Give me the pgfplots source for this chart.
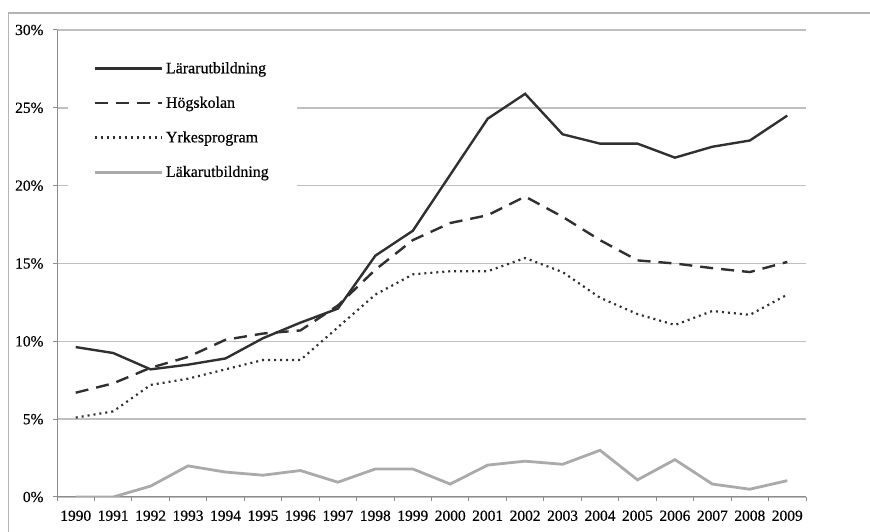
\documentclass[border=0pt]{standalone}
\usepackage{pgfplots}
\pgfplotsset{compat=1.18}
\usepackage{fontspec}
\setmainfont[FakeBold=0.5]{Liberation Serif}
\definecolor{dk}{HTML}{303030}
\definecolor{lg}{HTML}{AAAAAA}
\definecolor{grid}{HTML}{B4B4B4}
\definecolor{ax}{HTML}{8C8C8C}
\begin{document}
\begin{tikzpicture}[x=1bp,y=1bp]
\path[use as bounding box] (0,0) rectangle (870,532);
\draw[grid, line width=1.3bp] (8.5,-5) -- (8.5,519) -- (880,519);
\begin{axis}[
  at={(57bp,35bp)}, anchor=south west,
  scale only axis, width=749bp, height=467bp,
  xmin=1989.5, xmax=2009.5, ymin=0, ymax=30,
  axis lines*=left,
  axis line style={ax, line width=1bp},
  xtick={1989.5,1990.5,...,2009.5},
  xticklabels={},
  extra x ticks={1990,1991,1992,1993,1994,1995,1996,1997,1998,1999,2000,2001,2002,2003,2004,2005,2006,2007,2008,2009},
  extra x tick labels={1990,1991,1992,1993,1994,1995,1996,1997,1998,1999,2000,2001,2002,2003,2004,2005,2006,2007,2008,2009},
  extra x tick style={major tick length=0pt, tick style={draw=none}, grid=none,
     xticklabel style={yshift=-10bp}},
  ytick={0,5,...,30},
  yticklabels={0\%,5\%,10\%,15\%,20\%,25\%,30\%},
  ymajorgrids, xmajorgrids=false,
  grid style={grid, line width=1.4bp},
  tick align=outside,
  x tick style={draw=ax, line width=1bp},
  y tick style={draw=ax, line width=1bp},
  major tick length=4bp,
  tick label style={font=\fontsize{15.5}{19}\selectfont},
  yticklabel style={xshift=-6bp},
  legend style={at={(rel axis cs:0.0147,0.955)}, anchor=north west, fill=white, draw=none,
    font=\fontsize{16}{19}\selectfont, inner xsep=25bp, inner ysep=8bp,
    row sep=16bp, nodes={inner sep=3bp}},
  legend cell align=left,
  legend image code/.code={\draw[#1] (0bp,0bp) -- (67bp,0bp);},
]
\addplot[dk, line width=2.4bp] coordinates {
(1990,9.63)(1991,9.25)(1992,8.2)(1993,8.5)(1994,8.9)(1995,10.2)(1996,11.2)(1997,12.1)(1998,15.5)(1999,17.1)
(2000,20.7)(2001,24.3)(2002,25.9)(2003,23.3)(2004,22.7)(2005,22.7)(2006,21.8)(2007,22.5)(2008,22.9)(2009,24.5)};
\addlegendentry{Lärarutbildning}
\addplot[dk, line width=2.4bp, dash pattern=on 13bp off 8bp] coordinates {
(1990,6.7)(1991,7.3)(1992,8.3)(1993,9.0)(1994,10.1)(1995,10.5)(1996,10.7)(1997,12.3)(1998,14.6)(1999,16.5)
(2000,17.6)(2001,18.1)(2002,19.3)(2003,18.0)(2004,16.5)(2005,15.2)(2006,15.0)(2007,14.7)(2008,14.45)(2009,15.1)};
\addlegendentry{Högskolan}
\addplot[dk, line width=2.2bp, dash pattern=on 2bp off 4bp] coordinates {
(1990,5.1)(1991,5.5)(1992,7.2)(1993,7.6)(1994,8.2)(1995,8.8)(1996,8.8)(1997,10.9)(1998,13.0)(1999,14.3)
(2000,14.5)(2001,14.5)(2002,15.35)(2003,14.45)(2004,12.8)(2005,11.75)(2006,11.05)(2007,11.95)(2008,11.7)(2009,13.0)};
\addlegendentry{Yrkesprogram}
\addplot[lg, line width=2.8bp] coordinates {
(1990,0)(1991,0)(1992,0.7)(1993,2.0)(1994,1.6)(1995,1.4)(1996,1.7)(1997,0.95)(1998,1.8)(1999,1.8)
(2000,0.83)(2001,2.05)(2002,2.3)(2003,2.1)(2004,3.0)(2005,1.1)(2006,2.4)(2007,0.83)(2008,0.5)(2009,1.05)};
\addlegendentry{Läkarutbildning}
\end{axis}
\end{tikzpicture}
\end{document}
